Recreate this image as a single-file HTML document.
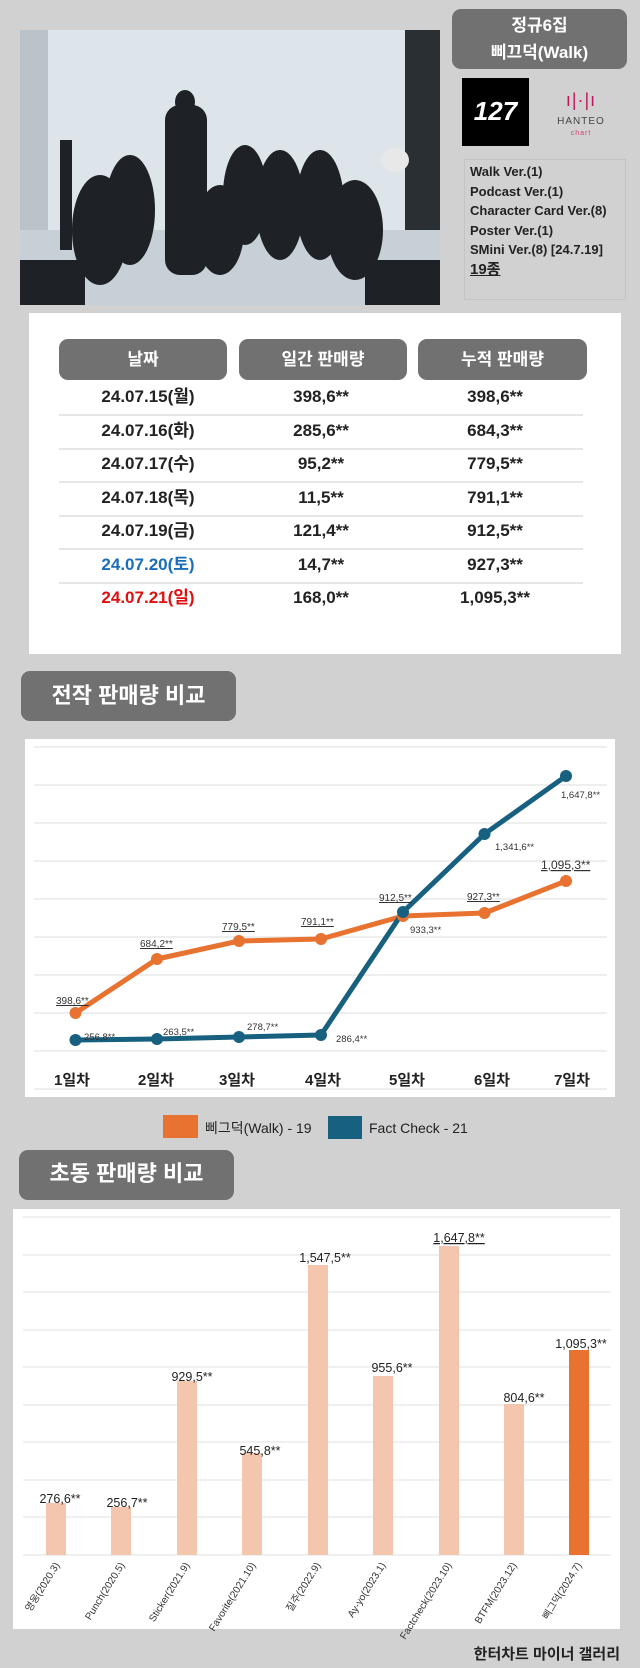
<!DOCTYPE html>
<html><head><meta charset="utf-8">
<style>
body{margin:0;width:640px;height:1668px;background:#d1d1d1;position:relative;overflow:hidden;font-family:"Liberation Sans","Noto Sans CJK KR",sans-serif;}
.a{position:absolute;}
.pill{position:absolute;background:#717171;border-radius:9px;color:#fff;font-weight:bold;text-align:center;}
.row{position:absolute;left:59px;width:524px;height:34px;border-bottom:2px solid #e6e6e6;font-size:17px;font-weight:bold;color:#222;}
.row span{position:absolute;top:6px;height:22px;line-height:22px;transform:translateX(-50%);white-space:nowrap;}
.ver{font-size:13px;color:#222;line-height:19.5px;font-weight:bold;}
</style></head><body>

<svg class="a" style="left:20px;top:30px" width="420" height="275" viewBox="0 0 420 275">
<rect width="420" height="275" fill="#dde5ea"/>
<rect x="0" y="0" width="28" height="275" fill="#b9c3c9"/>
<rect x="385" y="0" width="35" height="275" fill="#2a2f33"/>
<rect x="0" y="200" width="420" height="75" fill="#c7d0d6"/>
<g fill="#1e2226">
<ellipse cx="80" cy="200" rx="28" ry="55"/><ellipse cx="110" cy="180" rx="25" ry="55"/>
<rect x="145" y="75" width="42" height="170" rx="15"/><ellipse cx="165" cy="72" rx="10" ry="12"/>
<ellipse cx="225" cy="165" rx="22" ry="50"/><ellipse cx="260" cy="175" rx="24" ry="55"/>
<ellipse cx="300" cy="175" rx="24" ry="55"/><ellipse cx="335" cy="200" rx="28" ry="50"/>
<ellipse cx="200" cy="200" rx="24" ry="45"/>
<rect x="0" y="230" width="65" height="45"/><rect x="345" y="230" width="75" height="45"/>
<rect x="40" y="110" width="12" height="110"/>
</g>
<ellipse cx="375" cy="130" rx="14" ry="12" fill="#e8e8e8"/>
</svg>

<div class="pill" style="left:452px;top:9px;width:175px;height:60px;font-size:17px;line-height:27px;padding-top:3px;box-sizing:border-box">정규6집<br>삐끄덕(Walk)</div>
<div class="a" style="left:462px;top:78px;width:67px;height:68px;background:#000;color:#fff;font-size:26px;font-weight:bold;font-style:italic;text-align:center;line-height:66px">127</div>
<div class="a" style="left:551px;top:90px;width:60px;text-align:center;color:#c2185b;font-size:18px;letter-spacing:1px">ı|·|ı</div>
<div class="a" style="left:545px;top:116px;width:72px;text-align:center;color:#444;font-size:10px;letter-spacing:1px">HANTEO<br><span style="color:#d04070;font-size:7px">chart</span></div>
<div class="a ver" style="left:464px;top:159px;width:162px;height:141px;border:1px solid #c4c4c4;box-sizing:border-box;padding:2px 0 0 5px">Walk Ver.(1)<br>Podcast Ver.(1)<br>Character Card Ver.(8)<br>Poster Ver.(1)<br>SMini Ver.(8) [24.7.19]<br><span style="font-size:15px;text-decoration:underline">19종</span></div>

<div class="a" style="left:29px;top:313px;width:592px;height:341px;background:#fff"></div>
<div class="pill" style="left:59px;top:339px;width:168px;height:41px;line-height:41px;font-size:17px">날짜</div>
<div class="pill" style="left:239px;top:339px;width:168px;height:41px;line-height:41px;font-size:17px">일간 판매량</div>
<div class="pill" style="left:418px;top:339px;width:169px;height:41px;line-height:41px;font-size:17px">누적 판매량</div>
<div class="row" style="top:380px"><span style="left:89px">24.07.15(월)</span><span style="left:262px">398,6**</span><span style="left:436px">398,6**</span></div>
<div class="row" style="top:414px"><span style="left:89px">24.07.16(화)</span><span style="left:262px">285,6**</span><span style="left:436px">684,3**</span></div>
<div class="row" style="top:447px"><span style="left:89px">24.07.17(수)</span><span style="left:262px">95,2**</span><span style="left:436px">779,5**</span></div>
<div class="row" style="top:481px"><span style="left:89px">24.07.18(목)</span><span style="left:262px">11,5**</span><span style="left:436px">791,1**</span></div>
<div class="row" style="top:514px"><span style="left:89px">24.07.19(금)</span><span style="left:262px">121,4**</span><span style="left:436px">912,5**</span></div>
<div class="row" style="top:548px"><span style="left:89px;color:#1a6fb8">24.07.20(토)</span><span style="left:262px">14,7**</span><span style="left:436px">927,3**</span></div>
<div class="row" style="top:581px;border:none"><span style="left:89px;color:#e01010">24.07.21(일)</span><span style="left:262px">168,0**</span><span style="left:436px">1,095,3**</span></div>

<div class="pill" style="left:21px;top:671px;width:215px;height:50px;line-height:50px;font-size:22px">전작 판매량 비교</div>

<svg class="a" style="left:0;top:0" width="640" height="1668">
<rect x="25" y="739" width="590" height="358" fill="#fff"/>
<g stroke="#e8e8e8" stroke-width="1.5">
<line x1="34" x2="607" y1="747" y2="747"/><line x1="34" x2="607" y1="785" y2="785"/><line x1="34" x2="607" y1="823" y2="823"/><line x1="34" x2="607" y1="861" y2="861"/><line x1="34" x2="607" y1="899" y2="899"/><line x1="34" x2="607" y1="937" y2="937"/><line x1="34" x2="607" y1="975" y2="975"/><line x1="34" x2="607" y1="1013" y2="1013"/><line x1="34" x2="607" y1="1051" y2="1051"/><line x1="34" x2="607" y1="1089" y2="1089"/>
</g>
<polyline fill="none" stroke="#e8722f" stroke-width="5" stroke-linejoin="round" points="75.5,1013 157,959 239,941 321,939 403,916 484.5,913 566,881"/>
<polyline fill="none" stroke="#17607f" stroke-width="5" stroke-linejoin="round" points="75.5,1040 157,1039 239,1037 321,1035 403,912 484.5,834 566,776"/>
<g fill="#e8722f"><circle cx="75.5" cy="1013" r="6"/><circle cx="157" cy="959" r="6"/><circle cx="239" cy="941" r="6"/><circle cx="321" cy="939" r="6"/><circle cx="403" cy="916" r="6"/><circle cx="484.5" cy="913" r="6"/><circle cx="566" cy="881" r="6"/></g>
<g fill="#17607f"><circle cx="75.5" cy="1040" r="6"/><circle cx="157" cy="1039" r="6"/><circle cx="239" cy="1037" r="6"/><circle cx="321" cy="1035" r="6"/><circle cx="403" cy="912" r="6"/><circle cx="484.5" cy="834" r="6"/><circle cx="566" cy="776" r="6"/></g>
<g font-family="Liberation Sans Narrow, Liberation Sans, sans-serif" font-size="10" fill="#333" text-decoration="underline">
<text x="56" y="1004">398,6**</text><text x="140" y="947">684,2**</text><text x="222" y="930">779,5**</text><text x="301" y="925">791,1**</text><text x="379" y="901">912,5**</text><text x="467" y="900">927,3**</text><text x="541" y="869" font-size="12">1,095,3**</text>
</g>
<g font-family="Liberation Sans, sans-serif" font-size="9.5" fill="#333">
<text x="84" y="1040">256,8**</text><text x="163" y="1035">263,5**</text><text x="247" y="1030">278,7**</text><text x="336" y="1042">286,4**</text><text x="410" y="933">933,3**</text><text x="495" y="850">1,341,6**</text><text x="561" y="798">1,647,8**</text>
</g>
<g font-family="Liberation Sans, Noto Sans CJK KR, sans-serif" font-size="15" font-weight="bold" fill="#222" text-anchor="middle">
<text x="72" y="1085">1일차</text><text x="156" y="1085">2일차</text><text x="237" y="1085">3일차</text><text x="323" y="1085">4일차</text><text x="407" y="1085">5일차</text><text x="492" y="1085">6일차</text><text x="572" y="1085">7일차</text>
</g>
<rect x="163" y="1115" width="35" height="23" fill="#e8722f"/>
<rect x="328" y="1116" width="34" height="23" fill="#17607f"/>
<g font-family="Liberation Sans, Noto Sans CJK KR, sans-serif" font-size="14" fill="#222">
<text x="205" y="1133">삐그덕(Walk) - 19</text><text x="369" y="1133">Fact Check - 21</text>
</g>

<rect x="13" y="1209" width="607" height="420" fill="#fff"/>
<g stroke="#ececec" stroke-width="1.5">
<line x1="23" x2="611" y1="1217" y2="1217"/><line x1="23" x2="611" y1="1255" y2="1255"/><line x1="23" x2="611" y1="1292" y2="1292"/><line x1="23" x2="611" y1="1330" y2="1330"/><line x1="23" x2="611" y1="1367" y2="1367"/><line x1="23" x2="611" y1="1405" y2="1405"/><line x1="23" x2="611" y1="1442" y2="1442"/><line x1="23" x2="611" y1="1480" y2="1480"/><line x1="23" x2="611" y1="1517" y2="1517"/><line x1="23" x2="611" y1="1555" y2="1555"/>
</g>
<g fill="#f5c6ae">
<rect x="46" y="1503" width="20" height="52"/><rect x="111" y="1507" width="20" height="48"/><rect x="177" y="1381" width="20" height="174"/><rect x="242" y="1453" width="20" height="102"/><rect x="308" y="1265" width="20" height="290"/><rect x="373" y="1376" width="20" height="179"/><rect x="439" y="1246" width="20" height="309"/><rect x="504" y="1404" width="20" height="151"/>
</g>
<rect x="569" y="1350" width="20" height="205" fill="#e8722f"/>
<g font-family="Liberation Sans, sans-serif" font-size="12.5" fill="#222" text-anchor="middle">
<text x="60" y="1503">276,6**</text><text x="127" y="1507">256,7**</text><text x="192" y="1381">929,5**</text><text x="260" y="1455">545,8**</text><text x="325" y="1262">1,547,5**</text><text x="392" y="1372">955,6**</text><text x="459" y="1242" text-decoration="underline">1,647,8**</text><text x="524" y="1402">804,6**</text><text x="581" y="1348">1,095,3**</text>
</g>
<g font-family="Liberation Sans, Noto Sans CJK KR, sans-serif" font-size="10" fill="#333" text-anchor="end">
<text transform="translate(60,1565) rotate(-58)">영웅(2020.3)</text>
<text transform="translate(125,1565) rotate(-58)">Punch(2020.5)</text>
<text transform="translate(190,1565) rotate(-58)">Sticker(2021.9)</text>
<text transform="translate(256,1565) rotate(-58)">Favorite(2021.10)</text>
<text transform="translate(321,1565) rotate(-58)">질주(2022.9)</text>
<text transform="translate(386,1565) rotate(-58)">Ay-yo(2023.1)</text>
<text transform="translate(452,1565) rotate(-58)">Factcheck(2023.10)</text>
<text transform="translate(517,1565) rotate(-58)">BTFM(2023.12)</text>
<text transform="translate(582,1565) rotate(-58)">삐그덕(2024.7)</text>
</g>
<text x="620" y="1659" text-anchor="end" font-family="Liberation Sans, Noto Sans CJK KR, sans-serif" font-size="15" font-weight="bold" fill="#222">한터차트 마이너 갤러리</text>
</svg>

<div class="pill" style="left:19px;top:1150px;width:215px;height:50px;line-height:48px;font-size:22px">초동 판매량 비교</div>
</body></html>
